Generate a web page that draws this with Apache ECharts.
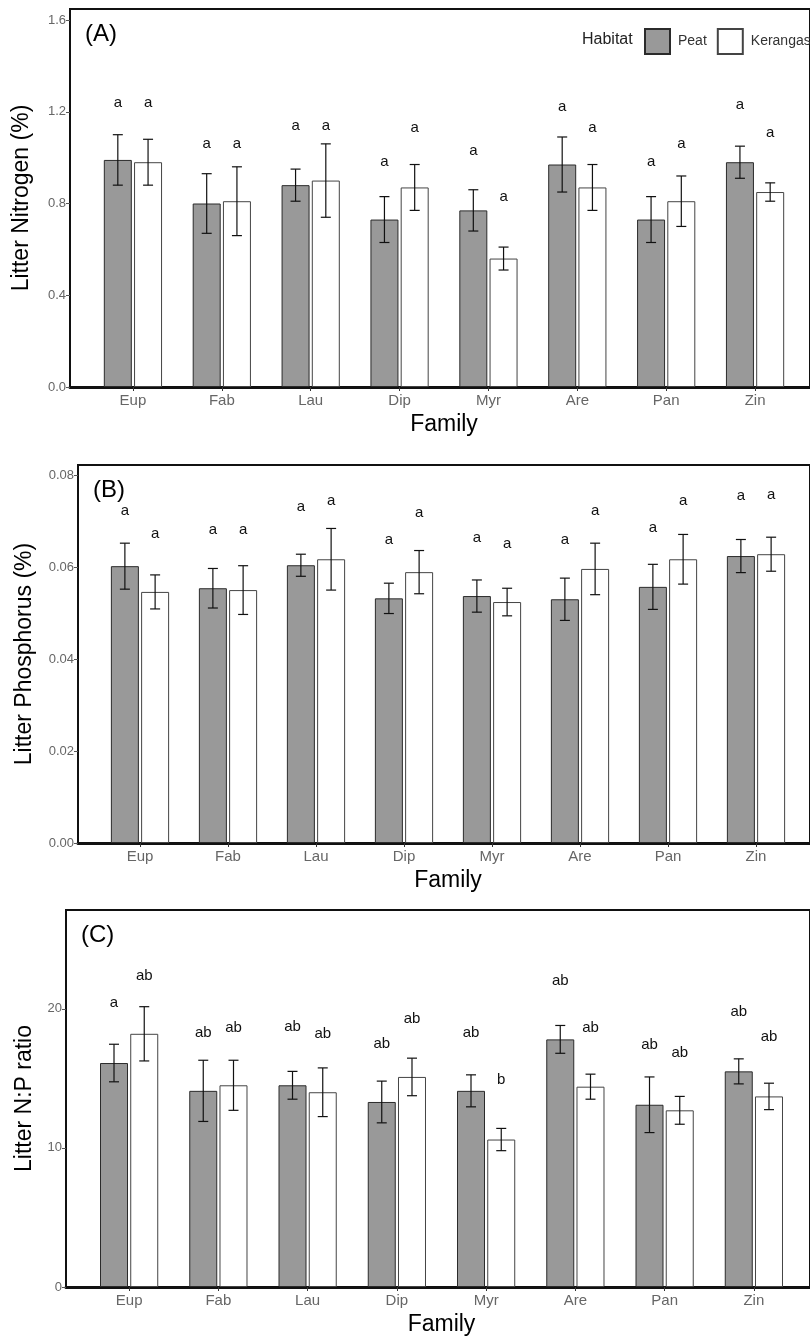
<!DOCTYPE html>
<html><head><meta charset="utf-8">
<script src="https://cdn.jsdelivr.net/npm/echarts@6/dist/echarts.min.js"></script>
<style>html,body{margin:0;padding:0;background:#fff}#c{width:810px;height:1340px}</style>
</head><body><div id="c"></div>
<script>
// ---------------- data ----------------
const families = ['Eup','Fab','Lau','Dip','Myr','Are','Pan','Zin'];
const habitats = ['Peat','Kerangas'];

// (A) Litter nitrogen (%)
const nPeat    = [0.99,0.80,0.88,0.73,0.77,0.97,0.73,0.98];
const nPeatSE  = [0.11,0.13,0.07,0.10,0.09,0.12,0.10,0.07];
const nKer     = [0.98,0.81,0.90,0.87,0.56,0.87,0.81,0.85];
const nKerSE   = [0.10,0.15,0.16,0.10,0.05,0.10,0.11,0.04];
const nPeatLetters = ['a','a','a','a','a','a','a','a'];
const nKerLetters  = ['a','a','a','a','a','a','a','a'];
const nPeatLetterY = [1.24,1.06,1.14,0.98,1.03,1.22,0.98,1.23];
const nKerLetterY  = [1.24,1.06,1.14,1.13,0.83,1.13,1.06,1.11];
const nTicks = [0,0.4,0.8,1.2,1.6];
const nMax = 1.648;

// (B) Litter phosphorus (%)
const pPeat    = [0.0602,0.0554,0.0604,0.0532,0.0537,0.0530,0.0557,0.0624];
const pPeatSE  = [0.0050,0.0043,0.0024,0.0033,0.0035,0.0046,0.0049,0.0036];
const pKer     = [0.0546,0.0550,0.0617,0.0589,0.0524,0.0596,0.0617,0.0628];
const pKerSE   = [0.0037,0.0053,0.0067,0.0047,0.0030,0.0056,0.0054,0.0037];
const pPeatLetters = ['a','a','a','a','a','a','a','a'];
const pKerLetters  = ['a','a','a','a','a','a','a','a'];
const pPeatLetterY = [0.0722,0.0680,0.0730,0.0659,0.0663,0.0659,0.0685,0.0754];
const pKerLetterY  = [0.0672,0.0680,0.0743,0.0717,0.0650,0.0722,0.0743,0.0757];
const pTicks = [0,0.02,0.04,0.06,0.08];
const pMax = 0.0822;

// (C) Litter N:P ratio
const npPeat   = [16.1,14.1,14.5,13.3,14.1,17.8,13.1,15.5];
const npPeatSE = [1.35,2.2,1.0,1.5,1.15,1.0,2.0,0.9];
const npKer    = [18.2,14.5,14.0,15.1,10.6,14.4,12.7,13.7];
const npKerSE  = [1.95,1.8,1.75,1.35,0.8,0.9,1.0,0.95];
const npPeatLetters = ['a','ab','ab','ab','ab','ab','ab','ab'];
const npKerLetters  = ['ab','ab','ab','ab','b','ab','ab','ab'];
const npPeatLetterY = [20.4,18.3,18.7,17.5,18.3,22.0,17.4,19.8];
const npKerLetterY  = [22.4,18.6,18.2,19.3,14.9,18.6,16.8,18.0];
const npTicks = [0,10,20];
const npMax = 27.1;

// ---------------- layout / style ----------------
const FONT = 'Liberation Sans, Arial, sans-serif';
const NARROW = 'Liberation Sans Narrow, Liberation Sans, Arial, sans-serif';
const BAR_W = 28, BAR_GAP = 0.08;
const OFF = BAR_W * (1 + BAR_GAP) / 2;

const panels = [
  {tag:'(A)', title:'Litter Nitrogen (%)', peat:nPeat, peatSE:nPeatSE, ker:nKer, kerSE:nKerSE,
   pl:nPeatLetters, kl:nKerLetters, ply:nPeatLetterY, kly:nKerLetterY, ticks:nTicks, max:nMax, dec:1,
   frame:{left:70, top:9, width:742, height:378}, data:{left:88.5, width:711}, nameGap:37},
  {tag:'(B)', title:'Litter Phosphorus (%)', peat:pPeat, peatSE:pPeatSE, ker:pKer, kerSE:pKerSE,
   pl:pPeatLetters, kl:pKerLetters, ply:pPeatLetterY, kly:pKerLetterY, ticks:pTicks, max:pMax, dec:2,
   frame:{left:78, top:465, width:740, height:378}, data:{left:96, width:704}, nameGap:42},
  {tag:'(C)', title:'Litter N:P ratio', peat:npPeat, peatSE:npPeatSE, ker:npKer, kerSE:npKerSE,
   pl:npPeatLetters, kl:npKerLetters, ply:npPeatLetterY, kly:npKerLetterY, ticks:npTicks, max:npMax, dec:0,
   frame:{left:66, top:910, width:750, height:377}, data:{left:84.5, width:714}, nameGap:30}
];

const grid = [], xAxis = [], yAxis = [], series = [], graphic = [];

function errSeries(ai, mean, se, sign){
  return {
    type:'custom', xAxisIndex:ai, yAxisIndex:ai, z:5, silent:true,
    data: mean.map((m,i)=>[i, m - se[i], m + se[i]]),
    encode:{x:0, y:[1,2]},
    renderItem(params, api){
      const i = api.value(0);
      const lo = api.coord([i, api.value(1)]);
      const hi = api.coord([i, api.value(2)]);
      const x = lo[0] + sign*OFF;
      const st = {stroke:'#111', lineWidth:1.2};
      return {type:'group', children:[
        {type:'line', shape:{x1:x, y1:lo[1], x2:x, y2:hi[1]}, style:st},
        {type:'line', shape:{x1:x-5, y1:hi[1], x2:x+5, y2:hi[1]}, style:st},
        {type:'line', shape:{x1:x-5, y1:lo[1], x2:x+5, y2:lo[1]}, style:st}
      ]};
    }
  };
}
function letterSeries(ai, ys, letters, sign){
  return {
    type:'custom', xAxisIndex:ai, yAxisIndex:ai, z:6, silent:true,
    data: ys.map((y,i)=>[i, y]),
    encode:{x:0, y:1},
    renderItem(params, api){
      const p = api.coord([api.value(0), api.value(1)]);
      return {type:'text', style:{text:letters[params.dataIndex], x:p[0]+sign*OFF, y:p[1],
        fill:'#111', fontSize:15, fontFamily:FONT, align:'center', verticalAlign:'middle'}};
    }
  };
}

panels.forEach((P, k) => {
  const fi = 2*k, di = 2*k + 1;
  const step = P.ticks[1];
  grid.push({left:P.frame.left, top:P.frame.top, width:P.frame.width, height:P.frame.height,
             show:true, borderColor:'#111', borderWidth:2, backgroundColor:'transparent'});
  grid.push({left:P.data.left, top:P.frame.top, width:P.data.width, height:P.frame.height});
  // frame axes
  xAxis.push({gridIndex:fi, type:'value', min:0, max:1, position:'bottom',
    axisLine:{show:true, onZero:false, lineStyle:{color:'#111', width:3}},
    axisTick:{show:false}, axisLabel:{show:false}, splitLine:{show:false}});
  yAxis.push({gridIndex:fi, type:'value', min:0, max:P.max, interval:step,
    axisLine:{show:true, onZero:false, lineStyle:{color:'#111', width:2}},
    axisTick:{show:true, length:4, lineStyle:{color:'#555'}, customValues:P.ticks},
    axisLabel:{customValues:P.ticks, color:'#666', fontSize:13, fontFamily:NARROW, margin:4,
      formatter:v => (Math.abs(v/step - Math.round(v/step)) < 1e-6 ? v.toFixed(P.dec) : '')},
    splitLine:{show:false},
    name:P.title, nameLocation:'middle', nameGap:P.nameGap,
    nameTextStyle:{fontSize:23, color:'#000', fontFamily:FONT}});
  // data axes
  xAxis.push({gridIndex:di, type:'category', data:families,
    axisLine:{show:false},
    axisTick:{show:true, alignWithLabel:true, length:4, lineStyle:{color:'#333'}},
    axisLabel:{color:'#666', fontSize:15, fontFamily:FONT, margin:6},
    name:'Family', nameLocation:'middle', nameGap:26,
    nameTextStyle:{fontSize:23, color:'#000', fontFamily:FONT}});
  yAxis.push({gridIndex:di, type:'value', min:0, max:P.max, show:false});
  series.push({type:'bar', name:habitats[0], xAxisIndex:di, yAxisIndex:di, data:P.peat,
    barWidth:BAR_W, barGap:(BAR_GAP*100)+'%', z:2,
    itemStyle:{color:'#999999', borderColor:'#2b2b2b', borderWidth:1}});
  series.push({type:'bar', name:habitats[1], xAxisIndex:di, yAxisIndex:di, data:P.ker,
    barWidth:BAR_W, barGap:(BAR_GAP*100)+'%', z:2,
    itemStyle:{color:'#ffffff', borderColor:'#444', borderWidth:1}});
  series.push(errSeries(di, P.peat, P.peatSE, -1));
  series.push(errSeries(di, P.ker, P.kerSE, 1));
  series.push(letterSeries(di, P.ply, P.pl, -1));
  series.push(letterSeries(di, P.kly, P.kl, 1));
  graphic.push({type:'text', left:P.frame.left + 15, top:P.frame.top + 13,
    style:{text:P.tag, fontSize:24, fontFamily:FONT, fill:'#000'}});
});

graphic.push({type:'text', left:582, top:32, style:{text:'Habitat', fontSize:16, fontFamily:FONT, fill:'#222'}});

const chart = echarts.init(document.getElementById('c'), null, {renderer:'canvas'});
chart.setOption({
  animation:false,
  backgroundColor:'#fff',
  grid, xAxis, yAxis, series, graphic,
  legend:{data:habitats, left:644, top:28, orient:'horizontal', padding:0, width:200,
    itemWidth:25, itemHeight:25, itemGap:10, icon:'rect',
    selectedMode:false, textStyle:{fontSize:14, color:'#333', fontFamily:FONT, padding:[0,0,0,3]}}
});
</script></body></html>
